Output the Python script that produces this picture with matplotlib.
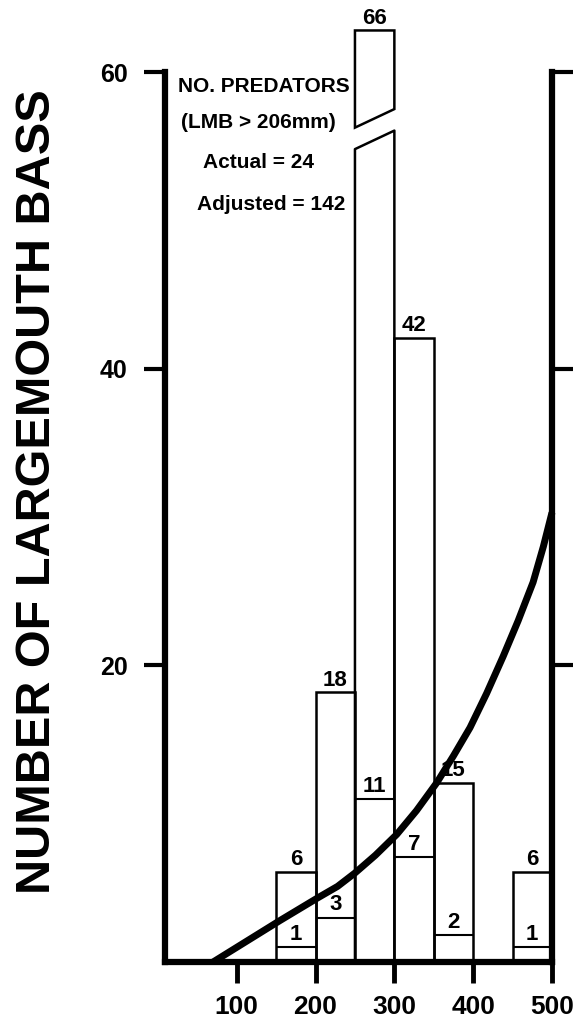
import matplotlib.pyplot as plt
from matplotlib.lines import Line2D
from matplotlib.patches import Polygon

plt.rcParams['font.family'] = ['Liberation Sans', 'DejaVu Sans']
plt.rcParams['font.weight'] = 'bold'

# length classes (mm), 50 mm wide
bin_left = [150, 200, 250, 300, 350, 450]
bin_width = 50
bar_heights = [6.1, 18.2, 66, 42.1, 12.1, 6.1]      # outer bars as drawn
bar_labels = ['6', '18', '66', '42', '15', '6']
inner_heights = [1.0, 3.0, 11.0, 7.1, 1.8, 1.0]     # inner bars as drawn
inner_labels = ['1', '3', '11', '7', '2', '1']

# predator curve
curve_x = [70, 155, 202, 228, 250, 276, 303, 328, 354, 375, 396, 417, 438, 457, 476, 489, 500]
curve_y = [0, 2.8, 4.3, 5.1, 6.0, 7.2, 8.6, 10.2, 12.1, 13.9, 15.8, 18.1, 20.6, 23.0, 25.6, 28.0, 30.3]

x_ticks = [100, 200, 300, 400, 500]
y_ticks = [20, 40, 60]

box_lines = ['NO. PREDATORS', '(LMB > 206mm)', 'Actual = 24', 'Adjusted = 142']

cap = 62.8     # top of the broken bar
brk = 54.8     # where the break starts
slant = 1.25
gap = 1.45

fig = plt.figure(figsize=(5.84, 10.25), dpi=100)
ax = fig.add_axes([165 / 584, 63 / 1025, (552 - 165) / 584, (962 - 72) / 1025])
ax.set_xlim(9, 500)
ax.set_ylim(0, 60)

for x0, h, lab in zip(bin_left, bar_heights, bar_labels):
    x1 = x0 + bin_width
    if h > 60:
        low = Line2D([x0, x0, x1, x1], [0, brk, brk + slant, 0],
                     color='k', lw=1.8, clip_on=False)
        ax.add_line(low)
        up = Polygon([(x0, brk + gap), (x0, cap), (x1, cap), (x1, brk + gap + slant)],
                     closed=True, fill=False, ec='k', lw=1.8, clip_on=False)
        ax.add_patch(up)
        top = cap
    else:
        ax.bar(x0, h, width=bin_width, align='edge', fill=False, ec='k', lw=1.8)
        top = h
    ax.annotate(lab, (x0 + bin_width / 2, top), xytext=(0, 1), textcoords='offset points',
                ha='center', va='bottom', fontsize=16, fontweight='bold', annotation_clip=False)

for x0, h, lab in zip(bin_left, inner_heights, inner_labels):
    ax.hlines(h, x0, x0 + bin_width, color='k', lw=1.5)
    ax.annotate(lab, (x0 + bin_width / 2, h), xytext=(0, 1.5), textcoords='offset points',
                ha='center', va='bottom', fontsize=16, fontweight='bold')

ax.plot(curve_x, curve_y, color='k', lw=5, solid_capstyle='butt', clip_on=False)

ax.spines['top'].set_visible(False)
for s in ['left', 'right', 'bottom']:
    ax.spines[s].set_linewidth(4.5)

ax.set_xticks(x_ticks)
ax.set_yticks(y_ticks)
ax.tick_params(axis='x', direction='out', length=15, width=3.5, pad=9, labelsize=19)
ax.tick_params(axis='y', direction='out', length=15, width=3, pad=12, labelsize=18,
               left=True, right=True)

ty = [59.0, 56.6, 53.9, 51.1]
tx = [25, 29, 57, 50]
for x, y, t in zip(tx, ty, box_lines):
    ax.text(x, y, t, ha='left', va='center', fontsize=15, fontweight='bold')

fig.text(38 / 584, 1 - 492 / 1025, 'NUMBER OF LARGEMOUTH BASS', rotation=90,
         ha='center', va='center', fontsize=35, fontweight='bold')

fig.savefig('out.png', dpi=100)
